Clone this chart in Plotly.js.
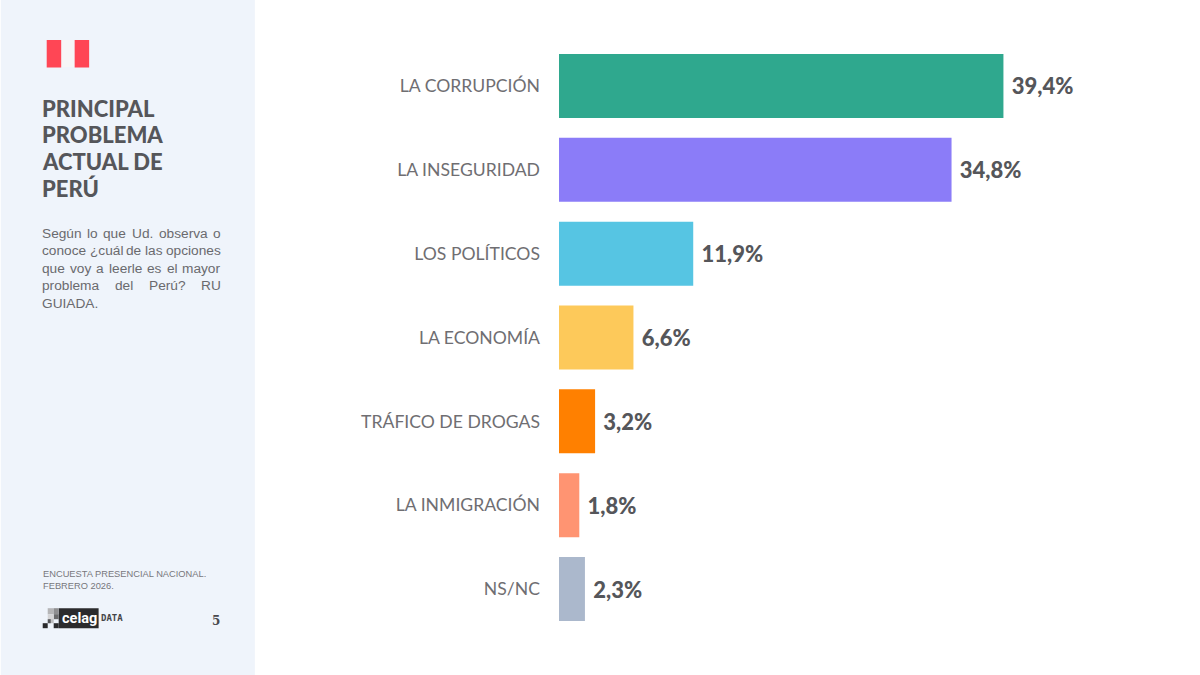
<!DOCTYPE html>
<html><head><meta charset="utf-8">
<script src="https://cdn.plot.ly/plotly-3.0.1.min.js"></script>
<style>html,body{margin:0;padding:0;background:#fff}#c{width:1200px;height:675px}</style>
</head><body><div id="c"></div>
<script>
const categories=["LA CORRUPCIÓN","LA INSEGURIDAD","LOS POLÍTICOS","LA ECONOMÍA","TRÁFICO DE DROGAS","LA INMIGRACIÓN","NS/NC"];
const values=[39.4,34.8,11.9,6.6,3.2,1.8,2.3];
const valueLabels=["39,4%","34,8%","11,9%","6,6%","3,2%","1,8%","2,3%"];
const barColors=["#2FA88E","#8B7CF8","#56C5E3","#FDC95A","#FF8000","#FF9472","#ABB8CC"];
const titleLines=["PRINCIPAL","PROBLEMA","ACTUAL DE","PERÚ"];
const questionLines=["Según lo que Ud. observa o","conoce ¿cuál de las opciones","que voy a leerle es el mayor","problema del Perú? RU","GUIADA."];
const sourceLines=["ENCUESTA PRESENCIAL NACIONAL.","FEBRERO 2026."];

const W=1200,H=675,mL=558.5,mR=76.5,mT=44,mB=44.2,plotNudge=0.7;
const px=x=>(x-mL-plotNudge)/(W-mL-mR), py=y=>1-(y-mT)/(H-mT-mB);
const ann=(text,x,y,size,color,family,weight)=>({text,x:px(x),y:py(y),xref:"paper",yref:"paper",showarrow:false,xanchor:"left",yanchor:"middle",align:"left",borderpad:0,borderwidth:0,font:{size,color,family,weight:weight||400}});
const rect=(x0,y0,x1,y1,fill)=>({type:"rect",xref:"paper",yref:"paper",layer:"below",x0:px(x0),x1:px(x1),y0:py(y1),y1:py(y0),fillcolor:fill,line:{width:0}});

const annotations=[];
titleLines.forEach((t,i)=>annotations.push(ann(t,41.5,108+i*26.7,22,"#55565A","Lato",900)));

// justified question text: words spread across the column width
const qSize=13.7;
const ctx=document.createElement("canvas").getContext("2d");ctx.font=qSize+"px 'Liberation Sans'";
const colL=41.5,colR=220;
questionLines.forEach((line,i)=>{
  const y=233+i*17.5,words=line.split(" ");
  if(i===questionLines.length-1){annotations.push(ann(line,colL,y,qSize,"#6A6A6E","Liberation Sans"));return;}
  const widths=words.map(w=>ctx.measureText(w).width),sum=widths.reduce((a,b)=>a+b,0);
  const gap=(colR-colL-sum)/(words.length-1);let x=colL;
  words.forEach((w,k)=>{annotations.push(ann(w,x,y,qSize,"#6A6A6E","Liberation Sans"));x+=widths[k]+gap;});
});
sourceLines.forEach((t,i)=>annotations.push(ann(t,42,574+i*12,9.3,"#77777B","Liberation Sans")));
annotations.push(ann("celag",61,618,14.5,"#FFFFFF","Roboto",700));
annotations.push(ann("DATA",100.5,618,9,"#444448","DejaVu Sans Mono",700));
annotations.push(ann("5",212,621,12,"#4A4A4E","DejaVu Serif",700));

const shapes=[
 rect(0,0,254.5,675,"#EFF4FB"),
 rect(60,40,74,67,"#F6F6F7"),
 rect(46,40,60.5,67.5,"#FF4655"),
 rect(74,40,88.5,67.5,"#FF4655"),
 rect(58,608,98,628,"#2B2B2D"),
 rect(47,608,53,614,"#B5B5B7"),rect(53,608,58,614,"#8E8E90"),
 rect(53,614,58,619,"#6A6A6C"),rect(47,614,53,619,"#D4D4D6"),
 rect(48,619,53,623,"#BDBDBF"),
 rect(42,623,47,628,"#2B2B2D"),rect(53,623,58,628,"#2B2B2D"),rect(47,619,50,623,"#555557")
];

Plotly.newPlot("c",[{
  type:"bar",orientation:"h",y:categories,x:values,
  marker:{color:barColors,line:{width:0}},
  text:valueLabels.map(t=>"\u00A0"+t),textposition:"outside",cliponaxis:false,
  textfont:{family:"Lato",size:22,color:"#55565A",weight:900},hoverinfo:"skip"
}],{
  width:W,height:H,paper_bgcolor:"#FFFFFF",plot_bgcolor:"rgba(0,0,0,0)",
  margin:{l:mL,r:mR,t:mT,b:mB,pad:0},showlegend:false,bargap:0.2366,
  xaxis:{range:[0,50],visible:false,fixedrange:true},
  yaxis:{type:"category",autorange:"reversed",showgrid:false,zeroline:false,showline:false,ticks:"outside",ticklen:14.5,tickcolor:"rgba(0,0,0,0)",
         tickfont:{family:"Lato",size:17.6,color:"#6F6E72"},fixedrange:true},
  shapes,annotations
},{displayModeBar:false,staticPlot:true});
</script></body></html>
